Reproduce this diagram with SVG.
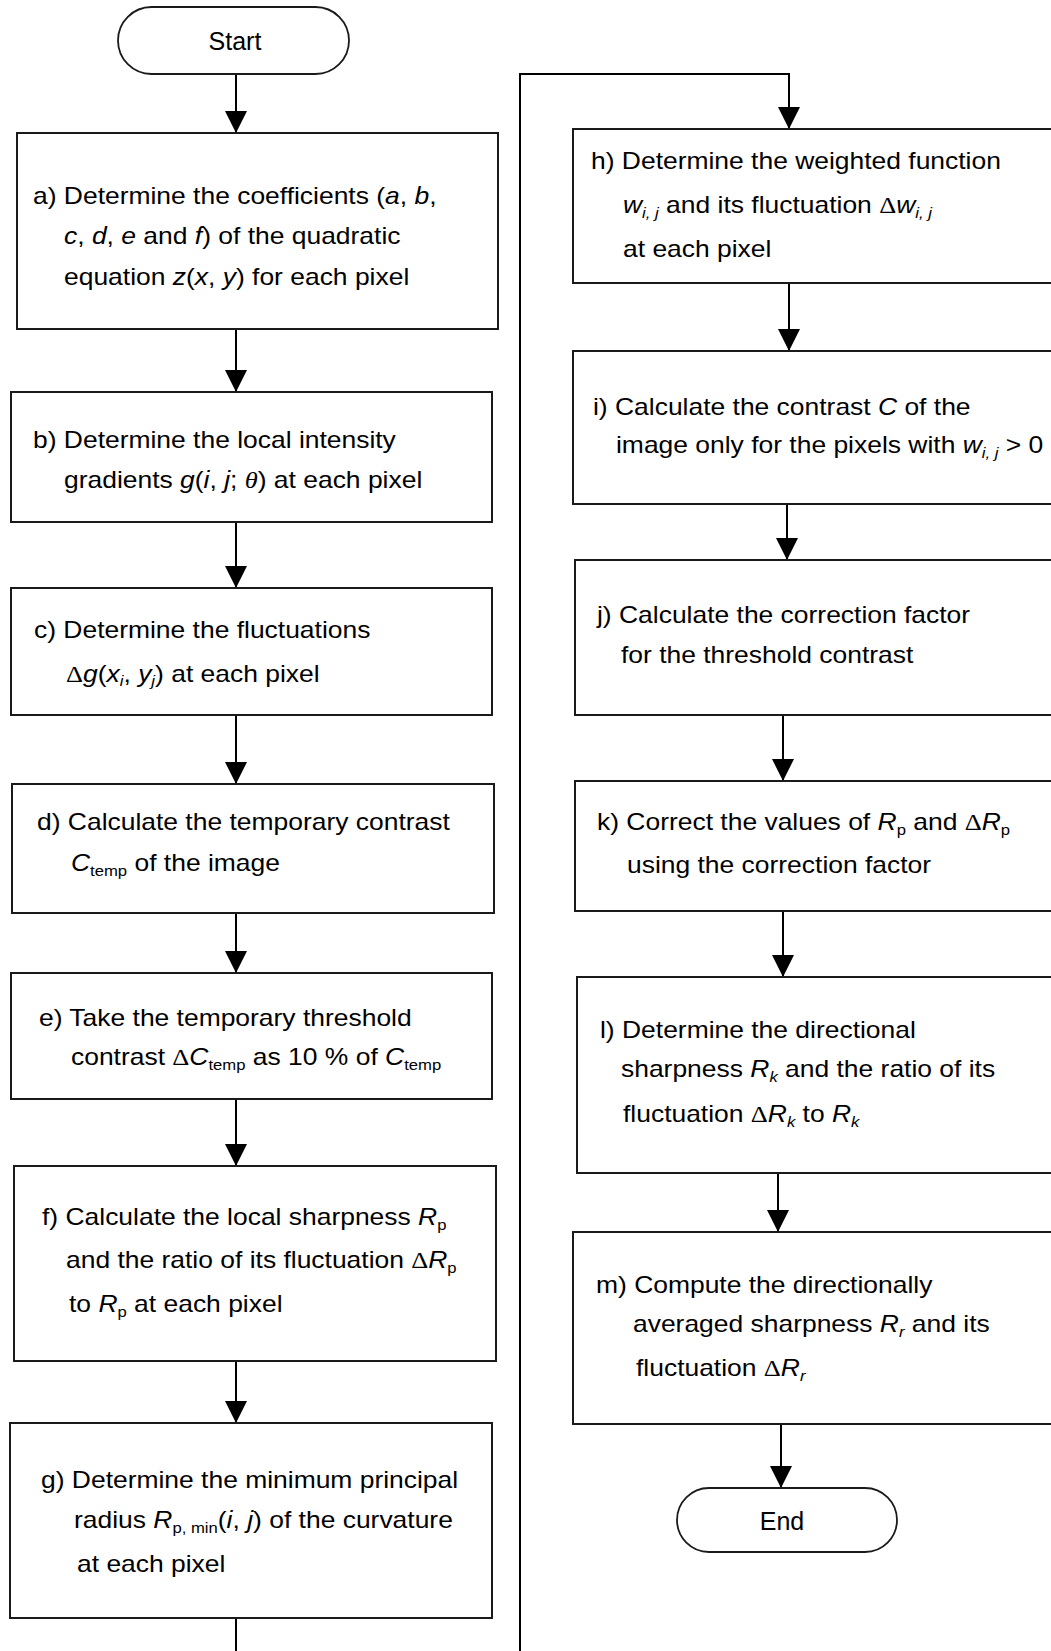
<svg xmlns="http://www.w3.org/2000/svg" width="1051" height="1651" viewBox="0 0 1051 1651">
  <style>
    .box { fill: #fff; stroke: #1a1a1a; stroke-width: 2; }
    .term { fill: #fff; stroke: #1a1a1a; stroke-width: 1.8; }
    .t { font-family: "Liberation Sans", Arial, sans-serif; font-size: 23px; fill: #000; }
    .tt { font-family: "Liberation Sans", Arial, sans-serif; font-size: 25px; fill: #000; text-anchor: middle; }
    .i { font-style: italic; }
    .s { font-size: 14.5px; }
    .g { font-family: "Liberation Serif", "Times New Roman", serif; }
    .conn { fill: none; stroke: #000; stroke-width: 2; }
  </style>
  <defs>
    <marker id="arrow" viewBox="0 0 22 22" refX="22" refY="11" markerWidth="22" markerHeight="22" markerUnits="userSpaceOnUse" orient="auto">
      <path d="M0,0 L22,11 L0,22 Z" fill="#000"/>
    </marker>
  </defs>
  <rect width="1051" height="1651" fill="#fff"/>

  <!-- connectors -->
  <g id="connectors">
    <path class="conn" d="M236,74 V133" marker-end="url(#arrow)"/>
    <path class="conn" d="M236,329 V392" marker-end="url(#arrow)"/>
    <path class="conn" d="M236,522 V588" marker-end="url(#arrow)"/>
    <path class="conn" d="M236,715 V784" marker-end="url(#arrow)"/>
    <path class="conn" d="M236,913 V973" marker-end="url(#arrow)"/>
    <path class="conn" d="M236,1099 V1166" marker-end="url(#arrow)"/>
    <path class="conn" d="M236,1361 V1423" marker-end="url(#arrow)"/>
    <path class="conn" d="M236,1618 V1651"/>
    <path class="conn" d="M520,1651 V74 H789 V129" marker-end="url(#arrow)"/>
    <path class="conn" d="M789,283 V351" marker-end="url(#arrow)"/>
    <path class="conn" d="M787,504 V560" marker-end="url(#arrow)"/>
    <path class="conn" d="M783,715 V781" marker-end="url(#arrow)"/>
    <path class="conn" d="M783,911 V977" marker-end="url(#arrow)"/>
    <path class="conn" d="M778,1173 V1232" marker-end="url(#arrow)"/>
    <path class="conn" d="M781,1424 V1488" marker-end="url(#arrow)"/>
  </g>

  <g id="start">
    <rect class="term" x="118" y="7" width="231" height="67" rx="33.5"/>
    <text class="tt" x="235" y="50">Start</text>
  </g>

  <!-- body text is set slightly wide: translate to the line start, then stretch horizontally -->
  <g id="step-a">
    <rect class="box" x="17" y="133" width="481" height="196"/>
    <text class="t" transform="translate(33 204) scale(1.15 1)">a) Determine the coefficients (<tspan class="i">a</tspan>, <tspan class="i">b</tspan>,</text>
    <text class="t" transform="translate(64 244) scale(1.15 1)"><tspan class="i">c</tspan>, <tspan class="i">d</tspan>, <tspan class="i">e</tspan> and <tspan class="i">f</tspan>) of the quadratic</text>
    <text class="t" transform="translate(64 285) scale(1.15 1)">equation <tspan class="i">z</tspan>(<tspan class="i">x</tspan>, <tspan class="i">y</tspan>) for each pixel</text>
  </g>

  <g id="step-b">
    <rect class="box" x="11" y="392" width="481" height="130"/>
    <text class="t" transform="translate(33 448) scale(1.15 1)">b) Determine the local intensity</text>
    <text class="t" transform="translate(64 488) scale(1.15 1)">gradients <tspan class="i">g</tspan>(<tspan class="i">i</tspan>, <tspan class="i">j</tspan>; <tspan class="i g">θ</tspan>) at each pixel</text>
  </g>

  <g id="step-c">
    <rect class="box" x="11" y="588" width="481" height="127"/>
    <text class="t" transform="translate(34 638) scale(1.15 1)">c) Determine the fluctuations</text>
    <text class="t" transform="translate(66 682) scale(1.15 1)"><tspan class="g">Δ</tspan><tspan class="i">g</tspan>(<tspan class="i">x</tspan><tspan class="i s" dy="4">i</tspan><tspan dy="-4">, </tspan><tspan class="i">y</tspan><tspan class="i s" dy="4">j</tspan><tspan dy="-4">) at each pixel</tspan></text>
  </g>

  <g id="step-d">
    <rect class="box" x="12" y="784" width="482" height="129"/>
    <text class="t" transform="translate(37 830) scale(1.15 1)">d) Calculate the temporary contrast</text>
    <text class="t" transform="translate(71 871) scale(1.15 1)"><tspan class="i">C</tspan><tspan class="s" dy="5">temp</tspan><tspan dy="-5"> of the image</tspan></text>
  </g>

  <g id="step-e">
    <rect class="box" x="11" y="973" width="481" height="126"/>
    <text class="t" transform="translate(39 1026) scale(1.15 1)">e) Take the temporary threshold</text>
    <text class="t" transform="translate(71 1065) scale(1.15 1)">contrast <tspan class="g">Δ</tspan><tspan class="i">C</tspan><tspan class="s" dy="5">temp</tspan><tspan dy="-5"> as 10 % of </tspan><tspan class="i">C</tspan><tspan class="s" dy="5">temp</tspan></text>
  </g>

  <g id="step-f">
    <rect class="box" x="14" y="1166" width="482" height="195"/>
    <text class="t" transform="translate(42 1225) scale(1.15 1)">f) Calculate the local sharpness <tspan class="i">R</tspan><tspan class="s" dy="5">p</tspan></text>
    <text class="t" transform="translate(66 1268) scale(1.15 1)">and the ratio of its fluctuation <tspan class="g">Δ</tspan><tspan class="i">R</tspan><tspan class="s" dy="5">p</tspan></text>
    <text class="t" transform="translate(69 1312) scale(1.15 1)">to <tspan class="i">R</tspan><tspan class="s" dy="5">p</tspan><tspan dy="-5"> at each pixel</tspan></text>
  </g>

  <g id="step-g">
    <rect class="box" x="10" y="1423" width="482" height="195"/>
    <text class="t" transform="translate(41 1488) scale(1.15 1)">g) Determine the minimum principal</text>
    <text class="t" transform="translate(74 1528) scale(1.15 1)">radius <tspan class="i">R</tspan><tspan class="s" dy="5">p, min</tspan><tspan dy="-5">(</tspan><tspan class="i">i</tspan>, <tspan class="i">j</tspan>) of the curvature</text>
    <text class="t" transform="translate(77 1572) scale(1.15 1)">at each pixel</text>
  </g>

  <g id="step-h">
    <rect class="box" x="573" y="129" width="490" height="154"/>
    <text class="t" transform="translate(591 169) scale(1.15 1)">h) Determine the weighted function</text>
    <text class="t" transform="translate(623 213) scale(1.15 1)"><tspan class="i">w</tspan><tspan class="i s" dy="5">i, j</tspan><tspan dy="-5"> and its fluctuation </tspan><tspan class="g">Δ</tspan><tspan class="i">w</tspan><tspan class="i s" dy="5">i, j</tspan></text>
    <text class="t" transform="translate(623 257) scale(1.15 1)">at each pixel</text>
  </g>

  <g id="step-i">
    <rect class="box" x="573" y="351" width="490" height="153"/>
    <text class="t" transform="translate(593 415) scale(1.15 1)">i) Calculate the contrast <tspan class="i">C</tspan> of the</text>
    <text class="t" transform="translate(616 453) scale(1.15 1)">image only for the pixels with <tspan class="i">w</tspan><tspan class="i s" dy="5">i, j</tspan><tspan dy="-5"> &gt; 0</tspan></text>
  </g>

  <g id="step-j">
    <rect class="box" x="575" y="560" width="490" height="155"/>
    <text class="t" transform="translate(597 623) scale(1.15 1)">j) Calculate the correction factor</text>
    <text class="t" transform="translate(621 663) scale(1.15 1)">for the threshold contrast</text>
  </g>

  <g id="step-k">
    <rect class="box" x="575" y="781" width="490" height="130"/>
    <text class="t" transform="translate(597 830) scale(1.15 1)">k) Correct the values of <tspan class="i">R</tspan><tspan class="s" dy="5">p</tspan><tspan dy="-5"> and </tspan><tspan class="g">Δ</tspan><tspan class="i">R</tspan><tspan class="s" dy="5">p</tspan></text>
    <text class="t" transform="translate(627 873) scale(1.15 1)">using the correction factor</text>
  </g>

  <g id="step-l">
    <rect class="box" x="577" y="977" width="490" height="196"/>
    <text class="t" transform="translate(600 1038) scale(1.15 1)">l) Determine the directional</text>
    <text class="t" transform="translate(621 1077) scale(1.15 1)">sharpness <tspan class="i">R</tspan><tspan class="i s" dy="5">k</tspan><tspan dy="-5"> and the ratio of its</tspan></text>
    <text class="t" transform="translate(623 1122) scale(1.15 1)">fluctuation <tspan class="g">Δ</tspan><tspan class="i">R</tspan><tspan class="i s" dy="5">k</tspan><tspan dy="-5"> to </tspan><tspan class="i">R</tspan><tspan class="i s" dy="5">k</tspan></text>
  </g>

  <g id="step-m">
    <rect class="box" x="573" y="1232" width="490" height="192"/>
    <text class="t" transform="translate(596 1293) scale(1.15 1)">m) Compute the directionally</text>
    <text class="t" transform="translate(633 1332) scale(1.15 1)">averaged sharpness <tspan class="i">R</tspan><tspan class="i s" dy="5">r</tspan><tspan dy="-5"> and its</tspan></text>
    <text class="t" transform="translate(636 1376) scale(1.15 1)">fluctuation <tspan class="g">Δ</tspan><tspan class="i">R</tspan><tspan class="i s" dy="5">r</tspan></text>
  </g>

  <g id="end">
    <rect class="term" x="677" y="1488" width="220" height="64" rx="32"/>
    <text class="tt" x="782" y="1530">End</text>
  </g>
</svg>
